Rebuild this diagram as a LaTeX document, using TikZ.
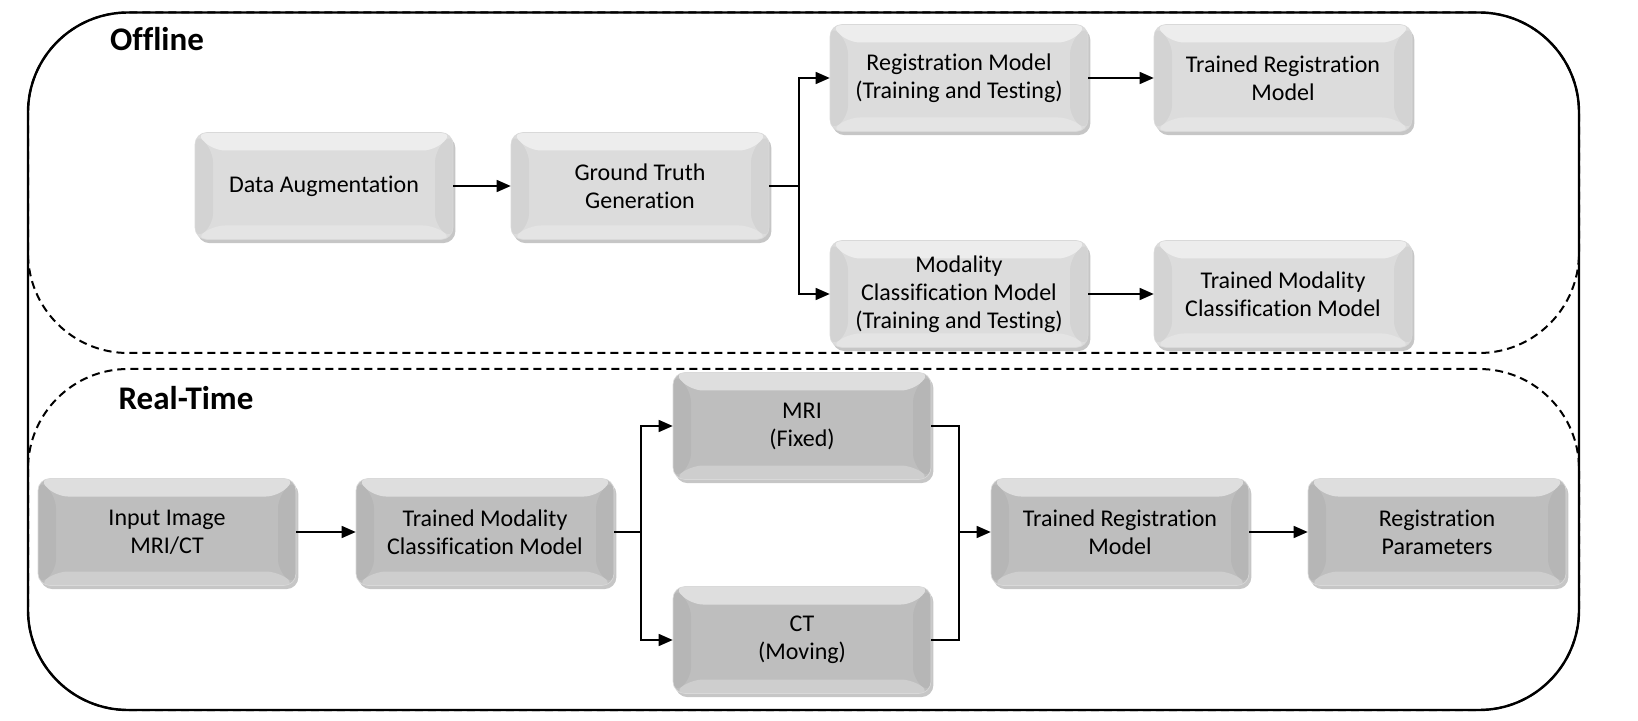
\documentclass[tikz,border=0pt]{standalone}
\usepackage{fontspec}
\setmainfont[Ligatures=NoCommon]{Carlito}
\usetikzlibrary{positioning}
\usetikzlibrary{arrows.meta}
\usetikzlibrary{shadows}
\definecolor{boxlight}{RGB}{220,220,220}
\definecolor{boxdark}{RGB}{190,190,190}

\tikzset{
    stage/.style={rectangle, rounded corners=6pt, minimum width=129pt, minimum height=53.5pt,
        align=center, font=\fontsize{12}{14}\selectfont, draw=black!15, line width=0.3pt,
        drop shadow={shadow xshift=1.2pt, shadow yshift=-1.8pt, opacity=0.45},
        path picture={
            \fill[white, opacity=0.5] (path picture bounding box.north west) -- (path picture bounding box.north east)
                -- ([xshift=-9pt,yshift=-9pt]path picture bounding box.north east) -- ([xshift=9pt,yshift=-9pt]path picture bounding box.north west) -- cycle;
            \fill[white, opacity=0.25] (path picture bounding box.south west) -- (path picture bounding box.south east)
                -- ([xshift=-9pt,yshift=7pt]path picture bounding box.south east) -- ([xshift=9pt,yshift=7pt]path picture bounding box.south west) -- cycle;
            \fill[black, opacity=0.04] (path picture bounding box.north west) -- ([xshift=9pt,yshift=-9pt]path picture bounding box.north west)
                -- ([xshift=9pt,yshift=7pt]path picture bounding box.south west) -- (path picture bounding box.south west) -- cycle;
            \fill[black, opacity=0.04] (path picture bounding box.north east) -- ([xshift=-9pt,yshift=-9pt]path picture bounding box.north east)
                -- ([xshift=-9pt,yshift=7pt]path picture bounding box.south east) -- (path picture bounding box.south east) -- cycle;
        }},
    offbox/.style={stage, fill=boxlight},
    rtbox/.style={stage, fill=boxdark},
    arr/.style={-{Triangle[length=7pt,width=6pt]}, line width=0.7pt},
    link/.style={line width=0.7pt},
    region/.style={line width=1pt, dash pattern=on 4pt off 2.5pt, rounded corners=50pt},
    phase/.style={font=\fontsize{16.5}{19}\selectfont\bfseries}
}

\begin{document}
\begin{tikzpicture}[x=0.5pt, y=-0.5pt]
    \useasboundingbox (0,0) rectangle (1638,721);

    % frames
    \draw[line width=1.2pt, rounded corners=50pt] (28,12.5) rectangle (1579,710);
    \draw[region] (28,12.5) rectangle (1579,353);
    \draw[region] (28,369) rectangle (1579,710);
    \node[phase] (off) at (157,39) {Offline};
    \node[phase] (rt) at (186,398) {Real-Time};

    % offline stage
    \node[offbox] (aug) at (324,186) {Data Augmentation};
    \node[offbox] (gt) at (640,186) {Ground Truth\\Generation};
    \node[offbox] (regm) at (959,78) {Registration Model\\(Training and Testing)};
    \node[offbox] (tregm) at (1283,78) {Trained Registration\\Model};
    \node[offbox] (clsm) at (959,294) {Modality\\Classification Model\\(Training and Testing)};
    \node[offbox] (tclsm) at (1283,294) {Trained Modality\\Classification Model};

    \coordinate (split1) at (799,186);
    \draw[arr] (aug) -- (gt);
    \draw[link] (gt.east) -- (split1);
    \draw[arr] (split1) |- (regm.west);
    \draw[arr] (split1) |- (clsm.west);
    \draw[arr] (regm) -- (tregm);
    \draw[arr] (clsm) -- (tclsm);

    % real-time stage
    \node[rtbox] (input) at (167,532) {Input Image\\MRI/CT};
    \node[rtbox] (rtcls) at (485,532) {Trained Modality\\Classification Model};
    \node[rtbox] (mri) at (802,426) {MRI\\(Fixed)};
    \node[rtbox] (ct) at (802,640) {CT\\(Moving)};
    \node[rtbox] (rtreg) at (1120,532) {Trained Registration\\Model};
    \node[rtbox] (params) at (1437,532) {Registration\\Parameters};

    \coordinate (split2) at (641,532);
    \coordinate (merge) at (959,532);
    \draw[arr] (input) -- (rtcls);
    \draw[link] (rtcls.east) -- (split2);
    \draw[arr] (split2) |- (mri.west);
    \draw[arr] (split2) |- (ct.west);
    \draw[link] (mri.east) -| (merge);
    \draw[link] (ct.east) -| (merge);
    \draw[arr] (merge) -- (rtreg.west);
    \draw[arr] (rtreg) -- (params);
\end{tikzpicture}
\end{document}
